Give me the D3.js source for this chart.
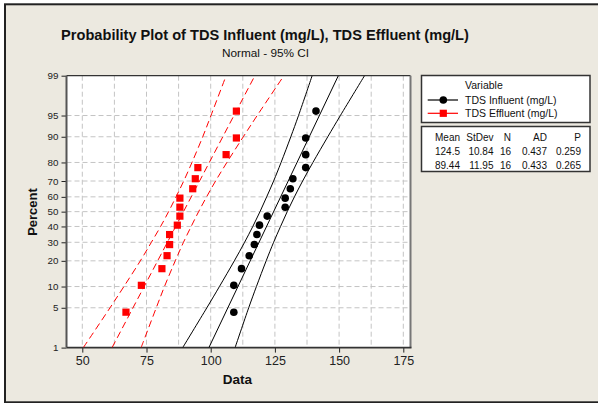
<!DOCTYPE html>
<html>
<head>
<meta charset="utf-8">
<script src="https://cdn.jsdelivr.net/npm/d3@7"></script>
<style>
  html, body { margin: 0; padding: 0; background: #ffffff; }
  svg { display: block; }
  text { font-family: "Liberation Sans", Arial, sans-serif; }
</style>
</head>
<body>
<svg id="chart" width="598" height="403"></svg>
<script>
// ---------------- DATA ----------------
const titleText = "Probability Plot of TDS Influent (mg/L), TDS Effluent (mg/L)";
const subtitleText = "Normal - 95% CI";
const seriesNames = ["TDS Influent (mg/L)", "TDS Effluent (mg/L)"];

// plotting positions (percent) for the 16 ranked observations
const plotPercent = [4.27, 10.37, 16.46, 22.56, 28.66, 34.76, 40.85, 46.95,
                     53.05, 59.15, 65.24, 71.34, 77.44, 83.54, 89.63, 95.73];
const influent = [109, 109, 112, 115, 117, 118, 119, 122, 129, 129, 131, 132, 137, 137, 137, 141];
const effluent = [67, 73, 81, 83, 84, 84, 87, 88, 88, 88, 93, 94, 95, 106, 110, 110];

// fitted lines: values at 1% and 99%
const fitPercent = [1, 99];
const influentFit = [99.3, 149.7];
const effluentFit = [61.6, 117.2];

// 95% confidence bands read at the percent grid levels
const ciPercent = [1, 5, 10, 20, 30, 40, 50, 60, 70, 80, 90, 95, 99];
const influentLower = [89.1, 98.5, 103.4, 109.2, 113.2, 116.4, 119.2, 121.8, 124.5, 127.4, 131.2, 134.2, 139.5];
const influentUpper = [109.5, 114.8, 117.8, 121.6, 124.5, 127.2, 129.8, 132.6, 135.8, 139.8, 145.6, 150.5, 159.9];
const effluentLower = [50.4, 60.8, 66.2, 72.6, 76.9, 80.5, 83.6, 86.5, 89.5, 92.7, 96.9, 100.1, 106.0];
const effluentUpper = [72.9, 78.8, 82.0, 86.2, 89.4, 92.4, 95.3, 98.4, 101.9, 106.3, 112.7, 118.1, 128.5];

// axis ticks
const xTicks = [50, 75, 100, 125, 150, 175];
const xGrid = [50, 62.5, 75, 87.5, 100, 112.5, 125, 137.5, 150, 162.5, 175];
const yTicks = [1, 5, 10, 20, 30, 40, 50, 60, 70, 80, 90, 95, 99];

// statistics table
const statHeaders = ["Mean", "StDev", "N", "AD", "P"];
const statRows = [
  ["124.5", "10.84", "16", "0.437", "0.259"],
  ["89.44", "11.95", "16", "0.433", "0.265"]
];

// ---------------- HELPERS ----------------
// inverse standard normal CDF (Acklam)
function probit(p) {
  const a = [-3.969683028665376e+01, 2.209460984245205e+02, -2.759285104469687e+02,
             1.383577518672690e+02, -3.066479806614716e+01, 2.506628277459239e+00];
  const b = [-5.447609879822406e+01, 1.615858368580409e+02, -1.556989798598866e+02,
             6.680131188771972e+01, -1.328068155288572e+01];
  const c = [-7.784894002430293e-03, -3.223964580411365e-01, -2.400758277161838e+00,
             -2.549732539343734e+00, 4.374664141464968e+00, 2.938163982698783e+00];
  const d = [7.784695709041462e-03, 3.224671290700398e-01, 2.445134137142996e+00,
             3.754408661907416e+00];
  const pl = 0.02425, ph = 1 - pl;
  let q, r;
  if (p < pl) {
    q = Math.sqrt(-2 * Math.log(p));
    return (((((c[0]*q+c[1])*q+c[2])*q+c[3])*q+c[4])*q+c[5]) / ((((d[0]*q+d[1])*q+d[2])*q+d[3])*q+1);
  } else if (p <= ph) {
    q = p - 0.5; r = q * q;
    return (((((a[0]*r+a[1])*r+a[2])*r+a[3])*r+a[4])*r+a[5])*q / (((((b[0]*r+b[1])*r+b[2])*r+b[3])*r+b[4])*r+1);
  } else {
    q = Math.sqrt(-2 * Math.log(1 - p));
    return -(((((c[0]*q+c[1])*q+c[2])*q+c[3])*q+c[4])*q+c[5]) / ((((d[0]*q+d[1])*q+d[2])*q+d[3])*q+1);
  }
}

// ---------------- LAYOUT ----------------
const svg = d3.select("#chart");
const plot = { left: 66.5, right: 410.5, top: 75.7, bottom: 347.6 };

const x = d3.scaleLinear().domain([50, 175]).range([82.3, 403.3]);
const zMax = probit(0.99);
const yz = d3.scaleLinear().domain([-zMax, zMax]).range([plot.bottom, plot.top]);
const yP = p => yz(probit(p / 100));

// background
svg.append("rect").attr("x", 0).attr("y", 0).attr("width", 598).attr("height", 403).attr("fill", "#ffffff");
svg.append("rect").attr("x", 5).attr("y", 4.3).attr("width", 600).attr("height", 398)
  .attr("fill", "#ECE9E0").attr("stroke", "#222").attr("stroke-width", 2);

// titles
svg.append("text").attr("x", 265).attr("y", 39.5).attr("text-anchor", "middle")
  .attr("font-size", 14.6).attr("font-weight", "bold").attr("fill", "#111").text(titleText);
svg.append("text").attr("x", 265.5).attr("y", 56.5).attr("text-anchor", "middle")
  .attr("font-size", 11.8).attr("fill", "#111").text(subtitleText);

// plot area
svg.append("rect").attr("x", plot.left).attr("y", plot.top)
  .attr("width", plot.right - plot.left).attr("height", plot.bottom - plot.top)
  .attr("fill", "#ffffff");

// grid
const grid = svg.append("g").attr("stroke", "#c4c4c4").attr("stroke-width", 1).attr("stroke-dasharray", "5,3");
grid.selectAll("line.v").data(xGrid).join("line").attr("class", "v")
  .attr("x1", d => x(d)).attr("x2", d => x(d)).attr("y1", plot.top).attr("y2", plot.bottom);
grid.selectAll("line.h").data(yTicks.slice(1, -1)).join("line").attr("class", "h")
  .attr("x1", plot.left).attr("x2", plot.right).attr("y1", d => yP(d)).attr("y2", d => yP(d));

// axes
const xAxis = svg.append("g").attr("transform", `translate(0,${plot.bottom})`)
  .call(d3.axisBottom(x).tickValues(xTicks).tickSize(5).tickSizeOuter(0).tickPadding(4));
xAxis.select(".domain").remove();
xAxis.selectAll("line").attr("stroke", "#222");
xAxis.selectAll("text").attr("font-size", 12.5).attr("fill", "#222")
  .attr("font-family", "Liberation Sans, Arial, sans-serif");

const yAxis = svg.append("g").attr("transform", `translate(${plot.left},0)`)
  .call(d3.axisLeft(yz).tickValues(yTicks.map(p => probit(p / 100)))
    .tickFormat((z, i) => yTicks[i]).tickSize(5).tickSizeOuter(0).tickPadding(3));
yAxis.select(".domain").remove();
yAxis.selectAll("line").attr("stroke", "#222");
yAxis.selectAll("text").attr("font-size", 9.8).attr("fill", "#222")
  .attr("font-family", "Liberation Sans, Arial, sans-serif");

// frame
svg.append("line").attr("x1", plot.left).attr("x2", plot.right).attr("y1", plot.top).attr("y2", plot.top)
  .attr("stroke", "#333").attr("stroke-width", 1.2);
svg.append("line").attr("x1", plot.left).attr("x2", plot.left).attr("y1", plot.top).attr("y2", plot.bottom)
  .attr("stroke", "#555").attr("stroke-width", 2);
svg.append("line").attr("x1", plot.right).attr("x2", plot.right).attr("y1", plot.top).attr("y2", plot.bottom)
  .attr("stroke", "#777").attr("stroke-width", 2);
svg.append("line").attr("x1", plot.left).attr("x2", plot.right + 1).attr("y1", plot.bottom).attr("y2", plot.bottom)
  .attr("stroke", "#333").attr("stroke-width", 1.6);

// axis labels
svg.append("text").attr("transform", "translate(36.5,212) rotate(-90)").attr("text-anchor", "middle")
  .attr("font-size", 13).attr("font-weight", "bold").attr("fill", "#111").text("Percent");
svg.append("text").attr("x", 237.5).attr("y", 384).attr("text-anchor", "middle")
  .attr("font-size", 13.5).attr("font-weight", "bold").attr("fill", "#111").text("Data");

// lines
const clip = svg.append("clipPath").attr("id", "clipPlot").append("rect")
  .attr("x", plot.left).attr("y", plot.top).attr("width", plot.right - plot.left).attr("height", plot.bottom - plot.top);
const lines = svg.append("g").attr("clip-path", "url(#clipPlot)");
const curve = d3.line().x(d => x(d[0])).y(d => yP(d[1])).curve(d3.curveCatmullRom);
const straight = d3.line().x(d => x(d[0])).y(d => yP(d[1]));

function drawSeries(lower, upper, fit, color, dash) {
  [lower, upper].forEach(arr => {
    lines.append("path").datum(arr.map((v, i) => [v, ciPercent[i]]))
      .attr("d", curve).attr("fill", "none").attr("stroke", color).attr("stroke-width", 1)
      .attr("stroke-dasharray", dash);
  });
  lines.append("path").datum(fit.map((v, i) => [v, fitPercent[i]]))
    .attr("d", straight).attr("fill", "none").attr("stroke", color).attr("stroke-width", 1)
    .attr("stroke-dasharray", dash);
}
drawSeries(influentLower, influentUpper, influentFit, "#000", null);
drawSeries(effluentLower, effluentUpper, effluentFit, "#ff0000", "7,4");

// points
svg.append("g").selectAll("circle").data(influent).join("circle")
  .attr("cx", d => x(d)).attr("cy", (d, i) => yP(plotPercent[i])).attr("r", 3.8).attr("fill", "#000");
svg.append("g").selectAll("rect").data(effluent).join("rect")
  .attr("x", d => x(d) - 3.6).attr("y", (d, i) => yP(plotPercent[i]) - 3.6)
  .attr("width", 7.2).attr("height", 7.2).attr("fill", "#ff0000");

// legend box
svg.append("rect").attr("x", 421.5).attr("y", 75.5).attr("width", 168.5).attr("height", 47)
  .attr("fill", "#fff").attr("stroke", "#333").attr("stroke-width", 1.5);
svg.append("text").attr("x", 465).attr("y", 89.3).attr("font-size", 10.5).attr("fill", "#111").text("Variable");
const legY = [100, 113.3];
seriesNames.forEach((name, i) => {
  const color = i === 0 ? "#000" : "#ff0000";
  svg.append("line").attr("x1", 427.7).attr("x2", 458).attr("y1", legY[i]).attr("y2", legY[i])
    .attr("stroke", color).attr("stroke-width", 1.2);
  if (i === 0) {
    svg.append("circle").attr("cx", 443.3).attr("cy", legY[i]).attr("r", 3.8).attr("fill", color);
  } else {
    svg.append("rect").attr("x", 443.3 - 3.6).attr("y", legY[i] - 3.6).attr("width", 7.2).attr("height", 7.2).attr("fill", color);
  }
  svg.append("text").attr("x", 465).attr("y", legY[i] + 4).attr("font-size", 10.5).attr("fill", "#111").text(name);
});

// statistics table
svg.append("rect").attr("x", 421.5).attr("y", 126.5).attr("width", 168.5).attr("height", 45)
  .attr("fill", "#fff").attr("stroke", "#333").attr("stroke-width", 1.5);
const colRight = [460, 493.5, 511, 547, 581];
const rowBase = [141.3, 154.5, 169];
const tbl = svg.append("g").attr("font-size", 10).attr("fill", "#111").attr("text-anchor", "end");
statHeaders.forEach((h, j) => tbl.append("text").attr("x", colRight[j]).attr("y", rowBase[0]).text(h));
statRows.forEach((row, r) => row.forEach((v, j) =>
  tbl.append("text").attr("x", colRight[j]).attr("y", rowBase[r + 1]).text(v)));
</script>
</body>
</html>
